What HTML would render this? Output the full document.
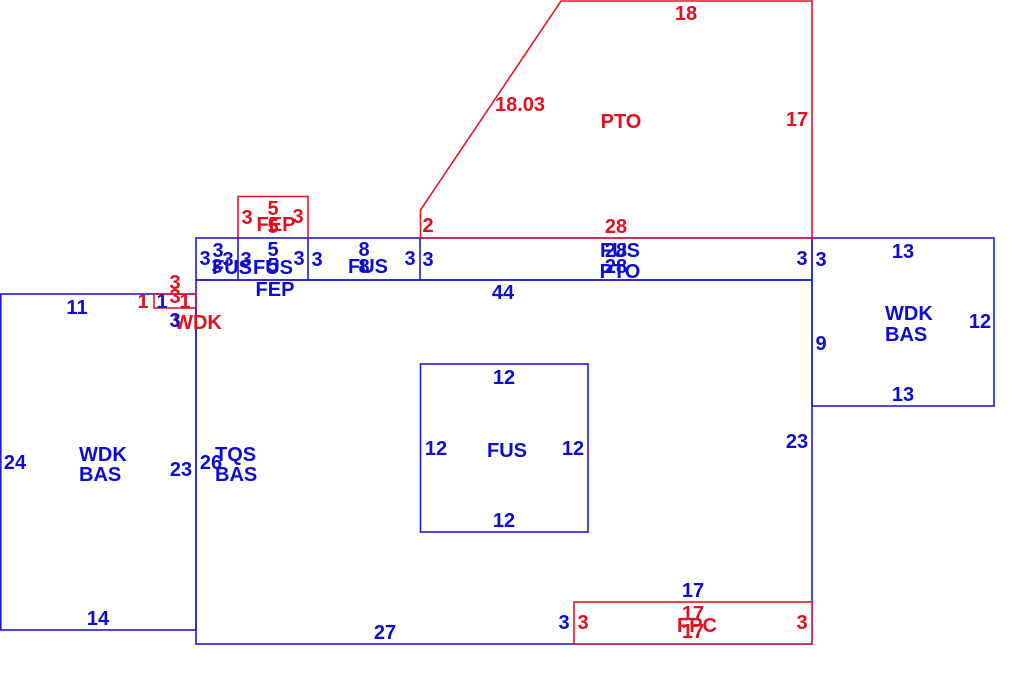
<!DOCTYPE html>
<html><head><meta charset="utf-8"><style>
html,body{margin:0;padding:0;background:#fff;}
svg{display:block;}
text{font-family:"Liberation Sans",Arial,sans-serif;font-weight:bold;font-size:20px;}
.b{fill:#0c0cd2;}
.r{fill:#e01020;}
</style></head><body>
<svg width="1010" height="685" viewBox="0 0 1010 685" xmlns="http://www.w3.org/2000/svg">
<g fill="none" stroke-width="1.6">
  <g stroke="#1a1ae0">
    <rect x="0.8" y="294" width="195.2" height="336"/>
    <rect x="196" y="280" width="616" height="364"/>
    <rect x="196" y="238" width="616" height="42"/>
    <line x1="238" y1="238" x2="238" y2="280"/>
    <line x1="308" y1="238" x2="308" y2="280"/>
    <line x1="420" y1="238" x2="420" y2="280"/>
    <rect x="812" y="238" width="182" height="168"/>
    <rect x="420.5" y="364" width="167.5" height="168"/>
  </g>
  <g stroke="#e01828">
    <polygon points="420.5,238 420.5,210 561,1 812,1 812,238"/>
    <polyline points="238,238 238,196.5 308,196.5 308,238"/>
    <rect x="154" y="294" width="42" height="14"/>
    <rect x="574" y="602" width="238" height="42" fill="#fff"/>
  </g>
</g>

<g class="r" text-anchor="middle">
  <text x="686" y="20">18</text>
  <text x="520" y="111">18.03</text>
  <text x="621" y="128">PTO</text>
  <text x="797" y="126">17</text>
  <text x="428" y="232">2</text>
  <text x="616" y="233">28</text>
  <text x="247" y="224">3</text>
  <text x="273" y="215">5</text>
  <text x="276" y="231">FEP</text>
  <text x="273" y="233">5</text>
  <text x="298" y="223">3</text>
  <text x="175" y="289">3</text>
  <text x="175" y="303">3</text>
  <text x="143" y="308">1</text>
  <text x="185" y="308">1</text>
  <text x="198" y="329">WDK</text>
  <text x="583" y="629">3</text>
  <text x="693" y="620">17</text>
  <text x="697" y="632">FPC</text>
  <text x="693" y="638">17</text>
  <text x="802" y="629">3</text>
</g>

<g class="b" text-anchor="middle">
  <text x="205" y="265">3</text>
  <text x="218" y="257">3</text>
  <text x="228" y="266">3</text>
  <text x="217" y="273">3</text>
  <text x="232" y="274">FUS</text>

  <text x="246" y="266">3</text>
  <text x="273" y="256">5</text>
  <text x="273" y="272">5</text>
  <text x="299" y="265">3</text>
  <text x="273" y="274">FUS</text>
  <text x="275" y="296">FEP</text>

  <text x="317" y="266">3</text>
  <text x="364" y="256">8</text>
  <text x="364" y="273">8</text>
  <text x="368" y="273">FUS</text>
  <text x="410" y="265">3</text>

  <text x="428" y="266">3</text>
  <text x="616" y="257">28</text>
  <text x="616" y="273">28</text>
  <text x="620" y="257">FUS</text>
  <text x="620" y="278">PTO</text>
  <text x="802" y="265">3</text>

  <text x="503" y="299">44</text>

  <text x="821" y="266">3</text>
  <text x="903" y="258">13</text>
  <text x="980" y="328">12</text>
  <text x="821" y="350">9</text>
  <text x="903" y="401">13</text>

  <text x="77" y="314">11</text>
  <text x="162" y="308">1</text>
  <text x="175" y="327">3</text>
  <text x="15" y="469">24</text>
  <text x="181" y="476">23</text>
  <text x="98" y="625">14</text>
  <text x="211" y="469">26</text>

  <text x="504" y="384">12</text>
  <text x="436" y="455">12</text>
  <text x="507" y="457">FUS</text>
  <text x="573" y="455">12</text>
  <text x="504" y="527">12</text>

  <text x="797" y="448">23</text>
  <text x="385" y="639">27</text>
  <text x="564" y="629">3</text>
  <text x="693" y="597">17</text>
</g>
<g class="b" text-anchor="start">
  <text x="885" y="320">WDK</text>
  <text x="885" y="341">BAS</text>
  <text x="79" y="461">WDK</text>
  <text x="79" y="481">BAS</text>
  <text x="215" y="461">TQS</text>
  <text x="215" y="481">BAS</text>
</g>
</svg>
</body></html>
